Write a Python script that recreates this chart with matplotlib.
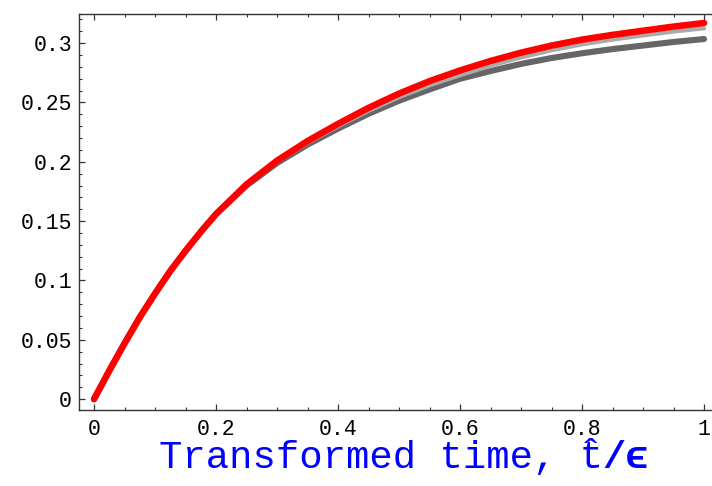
import matplotlib
matplotlib.use("Agg")
import matplotlib.pyplot as plt
from matplotlib.ticker import FixedLocator, FixedFormatter, MultipleLocator

# transformed time values
t_vals = [0.0, 0.025, 0.05, 0.075, 0.1, 0.125, 0.15, 0.175, 0.2, 0.25, 0.3, 0.35,
          0.4, 0.45, 0.5, 0.55, 0.6, 0.65, 0.7, 0.75, 0.8, 0.85, 0.9, 0.95, 1.0]

red_curve = [0, 0.024, 0.047, 0.069, 0.089, 0.108, 0.125, 0.141, 0.156, 0.181, 0.201, 0.2175,
             0.232, 0.2455, 0.2575, 0.268, 0.277, 0.285, 0.292, 0.298, 0.303, 0.307, 0.3105, 0.314, 0.317]
light_curve = [0, 0.024, 0.047, 0.069, 0.089, 0.108, 0.125, 0.141, 0.156, 0.181, 0.200, 0.216,
               0.230, 0.243, 0.2545, 0.2645, 0.273, 0.281, 0.288, 0.294, 0.299, 0.303, 0.3065, 0.3098, 0.3125]
dark_curve = [0, 0.024, 0.047, 0.069, 0.089, 0.108, 0.125, 0.141, 0.156, 0.180, 0.199, 0.2145,
              0.228, 0.2405, 0.2515, 0.261, 0.270, 0.2765, 0.2825, 0.2875, 0.2915, 0.295, 0.298, 0.301, 0.3035]

x_ticks = [0, 0.2, 0.4, 0.6, 0.8, 1.0]
x_labels = ["0", "0.2", "0.4", "0.6", "0.8", "1"]
y_ticks = [0, 0.05, 0.1, 0.15, 0.2, 0.25, 0.3]
y_labels = ["0", "0.05", "0.1", "0.15", "0.2", "0.25", "0.3"]

mono = ["Liberation Mono", "DejaVu Sans Mono"]

fig = plt.figure(figsize=(7.12, 4.86), dpi=100)
ax = fig.add_axes([0.111, 0.156, 0.889, 0.815])

ax.plot(t_vals, dark_curve, color="#666666", lw=4.4, solid_capstyle="round")
ax.plot(t_vals, light_curve, color="#aaaaaa", lw=3.0, solid_capstyle="round")
ax.plot(t_vals, red_curve, color="#ff0000", lw=4.7, solid_capstyle="round")

ax.set_xlim(-0.0246, 1.013)
ax.set_ylim(-0.0093, 0.3245)

ax.xaxis.set_major_locator(FixedLocator(x_ticks))
ax.xaxis.set_major_formatter(FixedFormatter(x_labels))
ax.xaxis.set_minor_locator(MultipleLocator(0.05))
ax.yaxis.set_major_locator(FixedLocator(y_ticks))
ax.yaxis.set_major_formatter(FixedFormatter(y_labels))
ax.yaxis.set_minor_locator(MultipleLocator(0.01))

ax.spines["right"].set_visible(False)
for s in ["left", "bottom", "top"]:
    ax.spines[s].set_linewidth(1.0)
    ax.spines[s].set_color("#333333")

ax.tick_params(which="both", direction="in", top=True, right=False, color="#333333")
ax.tick_params(which="major", length=4.5, width=0.9)
ax.tick_params(which="minor", length=2.5, width=0.8)
ax.tick_params(axis="y", which="major", pad=5)
ax.tick_params(axis="x", which="major", pad=6)
for lab in ax.get_xticklabels() + ax.get_yticklabels():
    lab.set_family(mono)
    lab.set_fontsize(15.5)

# x label: monospace, so each piece is placed by character cells
fs = 28
w = fs * 100 / 72 * 0.6 / 712          # one char cell, figure fraction
x0 = 404 / 712 - 10.5 * w
base = 0.037
blue = "#0000ff"
fig.text(x0, base, "Transformed time, t", family=mono, fontsize=fs,
         color=blue, ha="left", va="baseline")
fig.text(x0 + 18.5 * w, base + 0.004, "\u02c6", family=mono, fontsize=fs,
         color=blue, ha="center", va="baseline")
fig.text(x0 + 19 * w, base, "/\u03f5", family=mono, fontsize=fs,
         color=blue, fontweight="bold", ha="left", va="baseline")

fig.savefig("out.png", dpi=100)
